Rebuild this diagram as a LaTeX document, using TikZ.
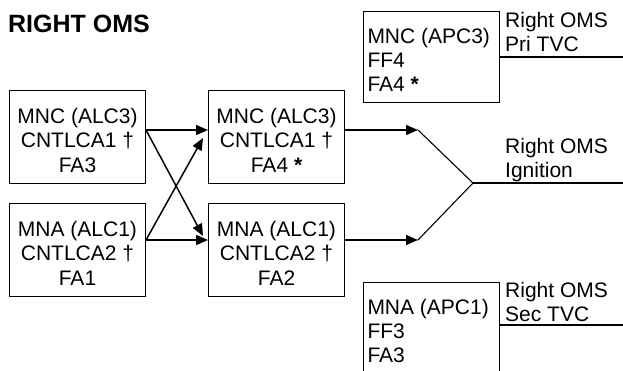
\documentclass[tikz,border=0pt]{standalone}
\usepackage{fontspec}
\setmainfont{Liberation Sans}
\usetikzlibrary{arrows.meta,calc}
\newcommand{\fl}{\rule{0pt}{21.5pt}}
\begin{document}
\begin{tikzpicture}[x=1pt,y=-1pt,
  box/.style={draw,line width=1pt,minimum width=136pt,minimum height=93pt,inner sep=0pt,align=center,font=\fontsize{21}{24.5}\selectfont},
  lbox/.style={draw,line width=1pt,minimum height=91pt,text width=128pt,inner xsep=4pt,inner ysep=0pt,align=flush left,font=\fontsize{21}{24}\selectfont},
  lab/.style={anchor=north west,inner sep=0pt,align=left,font=\fontsize{21}{24}\selectfont},
  arr/.style={line width=1.5pt,-{Triangle[length=12pt,width=10pt]}},
  wire/.style={line width=1.1pt}]
\useasboundingbox (0,0) rectangle (623,370);
\node[anchor=base west,inner sep=0pt,font=\fontsize{25}{29}\selectfont\bfseries] (title) at (8,32) {RIGHT OMS};
\node[box,anchor=north west] (A) at (9,90) {\fl MNC (ALC3)\\CNTLCA1 †\\FA3};
\node[box,anchor=north west] (B) at (9,203) {\fl MNA (ALC1)\\CNTLCA2 †\\FA1};
\node[box,anchor=north west] (C) at (208,90) {\fl MNC (ALC3)\\CNTLCA1 †\\FA4 \textbf{*}};
\node[box,anchor=north west] (D) at (208,203) {\fl MNA (ALC1)\\CNTLCA2 †\\FA2};
\node[lbox,anchor=north west] (E) at (363,11) {\fl MNC (APC3)\\FF4\\FA4 \textbf{*}};
\node[lbox,anchor=north west] (F) at (363,282) {\fl MNA (APC1)\\FF3\\FA3};
\node[lab] (lp) at (505,12) {Right OMS\\Pri TVC};
\node[lab] (li) at (505,138) {Right OMS\\Ignition};
\node[lab] (ls) at (505,282.5) {Right OMS\\Sec TVC};
\coordinate (ya) at (0,130);
\coordinate (yb) at (0,240);
\coordinate (tc) at (418,130);
\coordinate (td) at (418,240);
\coordinate (J) at (473,183);
\coordinate (ei) at (623,183);
\coordinate (ep) at (623,57);
\coordinate (es) at (623,325);
% inputs
\draw[arr] (A.east |- ya) -- (C.west |- ya);
\draw[arr] (B.east |- yb) -- (D.west |- yb);
\draw[arr] (A.east |- ya) -- ($(D.west |- 0,236)+(-5,0)$);
\draw[arr] (B.east |- yb) -- ($(C.west |- 0,138)+(-5,0)$);
% outputs
\draw[arr] (C.east |- ya) -- (tc);
\draw[arr] (D.east |- yb) -- (td);
\draw[wire] (tc) -- (J) -- (td);
\draw[wire] (J) -- (ei);
\draw[wire] (E.east |- ep) -- (ep);
\draw[wire] (F.east |- es) -- (es);
\end{tikzpicture}
\end{document}
